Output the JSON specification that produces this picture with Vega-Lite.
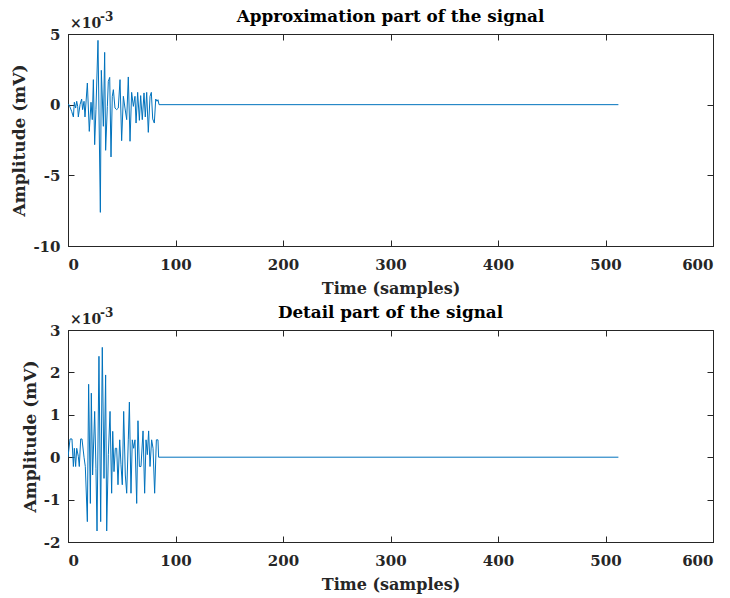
{
  "$schema": "https://vega.github.io/schema/vega-lite/v6.json",
  "background": "white",
  "padding": {"left": 10, "top": 8, "right": 5, "bottom": 5},
  "spacing": 7,
  "config": {
    "font": "DejaVu Serif",
    "view": {"stroke": "#262626", "strokeWidth": 1},
    "axis": {
      "domainColor": "#262626",
      "tickColor": "#262626",
      "labelColor": "#262626",
      "titleColor": "#262626",
      "labelFont": "DejaVu Serif",
      "labelFontWeight": "bold",
      "labelFontSize": 15,
      "titleFont": "DejaVu Serif",
      "titleFontWeight": "bold",
      "titleFontSize": 16,
      "tickSize": -6,
      "labelPadding": 14,
      "grid": false
    },
    "axisX": {"labelPadding": 17, "titlePadding": 8},
    "axisY": {"labelPadding": 14, "titlePadding": 4, "titleFontSize": 17},
    "title": {"font": "DejaVu Serif", "fontWeight": "bold", "fontSize": 16.8, "color": "#000000", "offset": -15, "frame": "group"}
  },
  "datasets": {
    "approx": [
      {"t": 0, "a": 0}, {"t": 1, "a": 0}, {"t": 3.4, "a": -0.00047}, {"t": 5, "a": -0.00087}, {"t": 5.9, "a": 0.00017},
      {"t": 7.1, "a": -0.00024}, {"t": 8.1, "a": 0.00024}, {"t": 9, "a": -0.00012}, {"t": 9.6, "a": -0.00087},
      {"t": 11.2, "a": 0}, {"t": 12.7, "a": 0.0004}, {"t": 13.6, "a": -0.00035}, {"t": 14.9, "a": 0.00024},
      {"t": 15.8, "a": -0.00087}, {"t": 18, "a": 0.00153}, {"t": 19.8, "a": -0.00189}, {"t": 21.4, "a": 0.00017},
      {"t": 22.6, "a": -0.00106}, {"t": 23.6, "a": 0.00177}, {"t": 24.8, "a": -0.00283}, {"t": 26, "a": -0.00035},
      {"t": 27.9, "a": 0.00455}, {"t": 30.1, "a": -0.00762}, {"t": 31, "a": 0.00243}, {"t": 32.9, "a": -0.00153},
      {"t": 34.1, "a": 0.0037}, {"t": 35, "a": -0.00323}, {"t": 36.6, "a": -0.00012}, {"t": 37.5, "a": 0.00165},
      {"t": 38.8, "a": 0.00193}, {"t": 40, "a": -0.0037}, {"t": 41.2, "a": 0.00059}, {"t": 42.2, "a": 0.00106},
      {"t": 43.7, "a": -0.00024}, {"t": 45.3, "a": -0.00035}, {"t": 46.8, "a": -0.00024}, {"t": 48.4, "a": 0.00177},
      {"t": 49.9, "a": -0.00255}, {"t": 51.5, "a": 0.00059}, {"t": 53, "a": -0.00024}, {"t": 54.6, "a": -0.00106},
      {"t": 56.1, "a": 0.00196}, {"t": 57.7, "a": -0.00259}, {"t": 59.2, "a": 0.00087}, {"t": 60.8, "a": -0.00012},
      {"t": 62.3, "a": 0.00059}, {"t": 63.3, "a": -0.0013}, {"t": 64.8, "a": 0.00087}, {"t": 66.4, "a": -0.00111},
      {"t": 67.6, "a": 0.00064}, {"t": 69.1, "a": -0.00106}, {"t": 70.7, "a": 0.00083}, {"t": 71.9, "a": -0.00087},
      {"t": 73.2, "a": 0.00087}, {"t": 74.7, "a": -0.00196}, {"t": 76.3, "a": 0.00059}, {"t": 77.5, "a": 0.00087},
      {"t": 78.8, "a": -0.00101}, {"t": 80.3, "a": -0.0013}, {"t": 81.6, "a": 0.0004}, {"t": 82.8, "a": 0.00024},
      {"t": 83.7, "a": 0.00035}, {"t": 84.7, "a": 0}, {"t": 512, "a": 0}
    ],
    "detail": [
      {"t": 0, "a": 0}, {"t": 1.9, "a": 0.00043}, {"t": 3.7, "a": 0.00043}, {"t": 5, "a": -0.00022}, {"t": 5.9, "a": 0.00021},
      {"t": 7.1, "a": -0.00022}, {"t": 8.1, "a": 0.00021}, {"t": 9.6, "a": 0.00002}, {"t": 10.5, "a": -0.00022},
      {"t": 11.8, "a": 0.00043}, {"t": 13, "a": 0.00043}, {"t": 14.9, "a": 0}, {"t": 16.1, "a": -0.00022},
      {"t": 18, "a": -0.00152}, {"t": 19.2, "a": 0.00172}, {"t": 20.8, "a": -0.00109}, {"t": 21.7, "a": 0.00151},
      {"t": 22.9, "a": -0.00042}, {"t": 24.8, "a": 0.00108}, {"t": 26, "a": -0.00026}, {"t": 27, "a": -0.00174},
      {"t": 28.8, "a": 0.00238}, {"t": 30.4, "a": -0.00152}, {"t": 31.9, "a": 0.00259}, {"t": 33.5, "a": -0.0005},
      {"t": 35, "a": 0.00194}, {"t": 36, "a": -0.00174}, {"t": 37.5, "a": 0.00006}, {"t": 39.1, "a": 0.00108},
      {"t": 40.6, "a": -0.00085}, {"t": 41.6, "a": 0.00061}, {"t": 42.8, "a": -0.00034}, {"t": 44, "a": 0.00021},
      {"t": 45.3, "a": 0.00021}, {"t": 46.5, "a": -0.00065}, {"t": 48.1, "a": 0.00041}, {"t": 49.3, "a": -0.00018},
      {"t": 50.5, "a": -0.00065}, {"t": 51.8, "a": 0.00108}, {"t": 53.3, "a": -0.00042}, {"t": 54.6, "a": -0.00085},
      {"t": 56.1, "a": 0.00041}, {"t": 57.1, "a": 0.0013}, {"t": 58.6, "a": -0.00085}, {"t": 59.8, "a": 0.00041},
      {"t": 61.1, "a": 0.00021}, {"t": 62.3, "a": 0.00041}, {"t": 63.9, "a": -0.00109}, {"t": 65.1, "a": 0.00086},
      {"t": 66.4, "a": -0.00022}, {"t": 67.9, "a": -0.00022}, {"t": 69.8, "a": 0.00062}, {"t": 71.3, "a": -0.00085},
      {"t": 72.6, "a": 0.00041}, {"t": 73.8, "a": 0.00006}, {"t": 75, "a": 0.00062}, {"t": 76.3, "a": -0.00022},
      {"t": 77.8, "a": 0.00041}, {"t": 79.1, "a": 0.00021}, {"t": 80.6, "a": -0.00085}, {"t": 82.2, "a": 0.00041},
      {"t": 83.7, "a": 0.00041}, {"t": 84.3, "a": 0}, {"t": 512, "a": 0}
    ],
    "scale": [{"label": "×10", "exp": "-3"}]
  },
  "vconcat": [
    {
      "title": "Approximation part of the signal",
      "width": 645,
      "height": 212,
      "resolve": {"axis": {"x": "independent", "y": "independent"}},
      "layer": [
        {
          "data": {"name": "approx"},
          "mark": {"type": "line", "color": "#0072BD", "strokeWidth": 1, "clip": true},
          "encoding": {
            "x": {"field": "t", "type": "quantitative", "scale": {"domain": [0, 600], "nice": false},
                  "axis": {"orient": "bottom", "title": "Time (samples)", "values": [0, 100, 200, 300, 400, 500, 600]}},
            "y": {"field": "a", "type": "quantitative", "scale": {"domain": [-0.01, 0.005], "nice": false, "zero": false},
                  "axis": {"orient": "left", "title": "Amplitude (mV)", "values": [-0.01, -0.005, 0, 0.005], "labelExpr": "'' + round(datum.value*1000)"}}
          }
        },
        {
          "data": {"name": "approx"},
          "mark": {"type": "point", "opacity": 0},
          "encoding": {
            "x": {"field": "t", "type": "quantitative", "axis": {"orient": "top", "labels": false, "title": null, "values": [0, 100, 200, 300, 400, 500, 600]}},
            "y": {"field": "a", "type": "quantitative", "axis": {"orient": "right", "labels": false, "title": null, "values": [-0.01, -0.005, 0, 0.005]}}
          }
        },
        {
          "data": {"name": "scale"},
          "mark": {"type": "text", "align": "left", "baseline": "alphabetic", "fontSize": 14, "fontWeight": "bold", "color": "#262626", "dx": 2, "dy": -6},
          "encoding": {"x": {"datum": 0, "axis": null}, "y": {"datum": 0.005, "axis": null}, "text": {"field": "label"}}
        },
        {
          "data": {"name": "scale"},
          "mark": {"type": "text", "align": "left", "baseline": "alphabetic", "fontSize": 12, "fontWeight": "bold", "color": "#262626", "dx": 32, "dy": -13},
          "encoding": {"x": {"datum": 0, "axis": null}, "y": {"datum": 0.005, "axis": null}, "text": {"field": "exp"}}
        }
      ]
    },
    {
      "title": "Detail part of the signal",
      "width": 645,
      "height": 212,
      "resolve": {"axis": {"x": "independent", "y": "independent"}},
      "layer": [
        {
          "data": {"name": "detail"},
          "mark": {"type": "line", "color": "#0072BD", "strokeWidth": 1, "clip": true},
          "encoding": {
            "x": {"field": "t", "type": "quantitative", "scale": {"domain": [0, 600], "nice": false},
                  "axis": {"orient": "bottom", "title": "Time (samples)", "values": [0, 100, 200, 300, 400, 500, 600]}},
            "y": {"field": "a", "type": "quantitative", "scale": {"domain": [-0.002, 0.003], "nice": false, "zero": false},
                  "axis": {"orient": "left", "title": "Amplitude (mV)", "values": [-0.002, -0.001, 0, 0.001, 0.002, 0.003], "labelExpr": "'' + round(datum.value*1000)"}}
          }
        },
        {
          "data": {"name": "detail"},
          "mark": {"type": "point", "opacity": 0},
          "encoding": {
            "x": {"field": "t", "type": "quantitative", "axis": {"orient": "top", "labels": false, "title": null, "values": [0, 100, 200, 300, 400, 500, 600]}},
            "y": {"field": "a", "type": "quantitative", "axis": {"orient": "right", "labels": false, "title": null, "values": [-0.002, -0.001, 0, 0.001, 0.002, 0.003]}}
          }
        },
        {
          "data": {"name": "scale"},
          "mark": {"type": "text", "align": "left", "baseline": "alphabetic", "fontSize": 14, "fontWeight": "bold", "color": "#262626", "dx": 2, "dy": -6},
          "encoding": {"x": {"datum": 0, "axis": null}, "y": {"datum": 0.003, "axis": null}, "text": {"field": "label"}}
        },
        {
          "data": {"name": "scale"},
          "mark": {"type": "text", "align": "left", "baseline": "alphabetic", "fontSize": 12, "fontWeight": "bold", "color": "#262626", "dx": 32, "dy": -13},
          "encoding": {"x": {"datum": 0, "axis": null}, "y": {"datum": 0.003, "axis": null}, "text": {"field": "exp"}}
        }
      ]
    }
  ]
}
